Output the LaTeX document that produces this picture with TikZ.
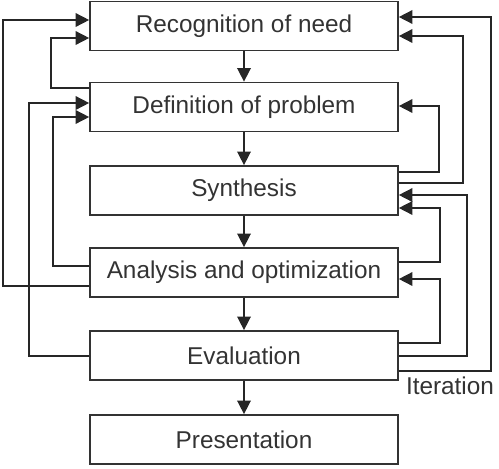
\documentclass[tikz,border=0pt]{standalone}
\usepackage{fontspec}
\setmainfont{Liberation Sans}
\usetikzlibrary{arrows.meta}

\begin{document}
\begin{tikzpicture}[x=0.025cm, y=-0.025cm,
	stage/.style={draw=black!80, line width=1.1pt, minimum width=7.7cm, minimum height=1.23cm, font=\fontsize{17.3}{20}\selectfont, text=black!80},
	arr/.style={draw=black!85, line width=1.1pt, -{Triangle[length=3.4mm, width=3.4mm]}}]
	\useasboundingbox (0,0) rectangle (499,468);
	\node[stage] (rec) at (244,26) {Recognition of need};
	\node[stage] (def) at (244,107) {Definition of problem};
	\node[stage] (syn) at (244,190.5) {Synthesis};
	\node[stage] (ana) at (244,272.5) {Analysis and optimization};
	\node[stage] (eva) at (244,355.5) {Evaluation};
	\node[stage] (pre) at (244,439.5) {Presentation};
	\draw[arr] (rec) -- (def);
	\draw[arr] (def) -- (syn);
	\draw[arr] (syn) -- (ana);
	\draw[arr] (ana) -- (eva);
	\draw[arr] (eva) -- (pre);
	% left loops
	\draw[arr] (ana.west |- 0,286) -| (3,20) -- (rec.west |- 0,20);
	\draw[arr] (def.west |- 0,88) -| (51,38) -- (rec.west |- 0,38);
	\draw[arr] (eva.west |- 0,356) -| (29,103) -- (def.west |- 0,103);
	\draw[arr] (ana.west |- 0,266) -| (53,117) -- (def.west |- 0,117);
	% right loops
	\draw[arr] (eva.east |- 0,371) -| (491,17) -- (rec.east |- 0,17);
	\draw[arr] (syn.east |- 0,183) -| (463,36) -- (rec.east |- 0,36);
	\draw[arr] (syn.east |- 0,172) -| (439,106) -- (def.east |- 0,106);
	\draw[arr] (eva.east |- 0,356) -| (467,195) -- (syn.east |- 0,195);
	\draw[arr] (ana.east |- 0,262) -| (440,208) -- (syn.east |- 0,208);
	\draw[arr] (eva.east |- 0,343) -| (440,279) -- (ana.east |- 0,279);
	\node[font=\fontsize{17.3}{20}\selectfont, text=black!80] (iter) at (450,386) {Iteration};
\end{tikzpicture}
\end{document}
